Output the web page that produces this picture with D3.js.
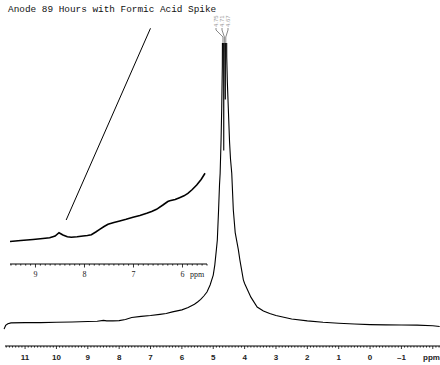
<!DOCTYPE html>
<html><head><meta charset="utf-8">
<script src="https://cdn.jsdelivr.net/npm/d3@7"></script>
<style>body{margin:0;background:#fff}svg{display:block}</style>
</head><body>
<script>
const title = "Anode 89 Hours with Formic Acid Spike";
// main spectrum (ppm, relative intensity, clipped above 100)
const mainPpm = [11.67,11.62,11.55,11.45,11.0,10.5,10.0,9.5,9.0,8.7,8.5,8.4,8.2,8.0,7.8,7.6,7.3,7.0,6.7,6.5,6.3,6.0,5.8,5.6,5.5,5.4,5.3,5.2,5.1,5.0,4.95,4.9,4.87,4.83,4.80,4.78,4.75,4.73,4.71,4.70,4.69,4.68,4.665,4.655,4.645,4.63,4.615,4.60,4.59,4.575,4.57,4.55,4.52,4.48,4.45,4.41,4.36,4.30,4.20,4.15,4.04,4.0,3.8,3.6,3.4,3.2,3.0,2.5,2.0,1.5,1.0,0.5,0.0,-0.5,-1.0,-1.5,-2.0,-2.22];
const mainInt = [-1.1,0.2,0.8,1.1,1.2,1.2,1.3,1.4,1.6,1.7,2.0,1.8,1.8,1.9,2.3,3.0,3.4,3.7,4.1,4.4,5.0,5.7,6.5,7.7,8.5,9.4,10.6,12.0,14.5,18.0,21.6,27,30.4,41,50,54,66,77,92,120,300,200,62,200,300,120,80,200,300,110,95,86,77,65,59,54,41,33,27,23.3,16.3,15,10.2,6.7,5.3,4.4,3.7,2.5,1.8,1.3,0.95,0.7,0.5,0.4,0.35,0.3,0.1,-0.2];
// inset expansion (ppm, relative intensity)
const insetPpm = [9.52,9.3,9.05,8.85,8.71,8.6,8.52,8.44,8.35,8.27,8.15,8.03,7.94,7.86,7.77,7.69,7.6,7.52,7.4,7.28,7.15,7.01,6.87,6.73,6.63,6.53,6.4,6.3,6.26,6.15,6.06,5.97,5.89,5.8,5.71,5.62,5.54];
const insetInt = [1.25,1.75,2.25,2.75,3.15,4.0,5.65,4.5,3.6,3.35,3.6,4.0,4.25,4.65,6.0,7.35,8.75,9.85,10.75,11.5,12.35,13.35,14.25,15.35,16.25,17.35,19.5,21.25,21.65,22.25,23.15,24.1,25.35,27.25,29.5,32.25,35.35];
// diagonal trace over the inset
const tracePpm = [8.374, 6.653];
const traceInt = [12, 107.85];
// peak labels
const peakLabels = ["4.75","4.71","4.67"];
const peakPpm = [4.69, 4.645, 4.60];
const mainTicks = [11,10,9,8,7,6,5,4,3,2,1,0,-1];
const insetTicks = [9,8,7,6];

const W = 440, H = 365;
const svg = d3.select("body").append("svg").attr("width", W).attr("height", H);

const x = d3.scaleLinear().domain([11.64, -2.23]).range([5, 440]);
const y = d3.scaleLinear().domain([0, 100]).range([326, 43]);
const xi = d3.scaleLinear().domain([9.52, 5.5]).range([10, 207]);
const yi = d3.scaleLinear().domain([0, 100]).range([244, 44]);

svg.append("text").attr("x", 8).attr("y", 12)
  .attr("font-family", "Liberation Mono, monospace").attr("font-size", 9.4)
  .attr("fill", "#111").text(title);

svg.append("defs").append("clipPath").attr("id", "clipMain")
  .append("rect").attr("x", 0).attr("y", 43).attr("width", W).attr("height", 300);

// main spectrum
const mainData = mainPpm.map((p, i) => [p, mainInt[i]]);
svg.append("path").datum(mainData).attr("clip-path", "url(#clipMain)")
  .attr("fill", "none").attr("stroke", "#000").attr("stroke-width", 1.1)
  .attr("d", d3.line().x(d => x(d[0])).y(d => y(d[1])));

// main axis
const gx = svg.append("g").attr("transform", "translate(0,346)");
gx.append("line").attr("x1", 5).attr("x2", 440).attr("stroke", "#000");
const minor = d3.range(-22, 117).map(v => v / 10);
gx.selectAll("line.mn").data(minor).join("line").attr("class", "mn")
  .attr("x1", d => x(d)).attr("x2", d => x(d)).attr("y1", 0)
  .attr("y2", d => Math.abs(d - Math.round(d)) < 1e-6 ? 3 : 1.6)
  .attr("stroke", "#000").attr("stroke-width", 0.8);
gx.selectAll("text").data(mainTicks).join("text")
  .attr("x", d => x(d)).attr("y", 13.5).attr("text-anchor", "middle")
  .attr("font-family", "Liberation Sans, Arial, sans-serif").attr("font-weight", "bold")
  .attr("font-size", 8).attr("fill", "#222")
  .text(d => d < 0 ? "\u2013" + Math.abs(d) : d);
gx.append("text").attr("x", 423).attr("y", 13.5)
  .attr("font-family", "Liberation Sans, Arial, sans-serif").attr("font-weight", "bold")
  .attr("font-size", 8).attr("fill", "#222").text("ppm");

// inset
const insetData = insetPpm.map((p, i) => [p, insetInt[i]]);
svg.append("path").datum(insetData)
  .attr("fill", "none").attr("stroke", "#000").attr("stroke-width", 1.6)
  .attr("d", d3.line().x(d => xi(d[0])).y(d => yi(d[1])));
svg.append("line")
  .attr("x1", xi(tracePpm[0])).attr("y1", yi(traceInt[0]))
  .attr("x2", xi(tracePpm[1])).attr("y2", yi(traceInt[1]))
  .attr("stroke", "#000").attr("stroke-width", 1);

const gi = svg.append("g").attr("transform", "translate(0,264)");
gi.append("line").attr("x1", 10).attr("x2", 207).attr("stroke", "#000");
const minorI = d3.range(55, 96).map(v => v / 10);
gi.selectAll("line.mn").data(minorI).join("line").attr("class", "mn")
  .attr("x1", d => xi(d)).attr("x2", d => xi(d)).attr("y1", 0)
  .attr("y2", d => Math.abs(d - Math.round(d)) < 1e-6 ? 3.5 : 1.6)
  .attr("stroke", "#000").attr("stroke-width", 0.8);
gi.selectAll("text").data(insetTicks).join("text")
  .attr("x", d => xi(d)).attr("y", 12.5).attr("text-anchor", "middle")
  .attr("font-family", "Liberation Serif, serif").attr("font-size", 8)
  .attr("fill", "#222").text(d => d);
gi.append("text").attr("x", 190).attr("y", 12.5)
  .attr("font-family", "Liberation Serif, serif").attr("font-size", 8)
  .attr("fill", "#222").text("ppm");

// peak labels
const lx = [216, 222, 228];
peakLabels.forEach((t, i) => {
  svg.append("text").attr("transform", `translate(${lx[i] + 2},27) rotate(-90)`)
    .attr("font-family", "Liberation Sans, Arial, sans-serif").attr("font-size", 6)
    .attr("fill", "#999").text(t);
  const px = x(peakPpm[i]);
  svg.append("path").attr("fill", "none").attr("stroke", "#555").attr("stroke-width", 0.7)
    .attr("d", `M${lx[i]},28 L${lx[i]},30 L${px},37 L${px},43`);
});
</script>
</body></html>
